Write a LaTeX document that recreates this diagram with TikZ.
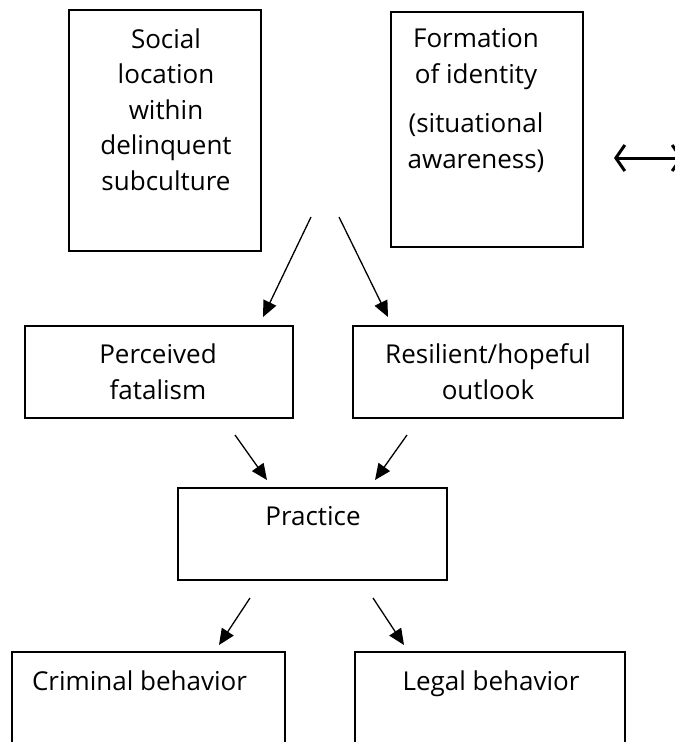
\documentclass[tikz,border=0pt]{standalone}
\usepackage{fontspec}
\setmainfont{Open Sans}
\usetikzlibrary{arrows.meta}
\begin{document}
\begin{tikzpicture}[x=1pt,y=-1pt,
  box/.style={draw, line width=2.2pt, inner sep=0pt, outer sep=0pt},
  lbl/.style={anchor=base, align=center, inner sep=0pt, font=\fontsize{26}{35.5}\selectfont},
  arr/.style={line width=1.3pt, -{Triangle[length=16pt,width=14pt]}},
  dbl/.style={line width=3pt, {Straight Barb[length=9pt,width=26pt]}-{Straight Barb[length=9pt,width=26pt]}}]
\useasboundingbox (0,0) rectangle (675,742);
\clip (0,0) rectangle (675,742);
\fill[white] (0,0) rectangle (675,742);
% boxes
\node[box, minimum width=192pt, minimum height=241pt] (social) at (165,130.5) {};
\node[box, minimum width=192pt, minimum height=235pt] (formation) at (487,129.5) {};
\node[box, minimum width=268pt, minimum height=92pt] (fatal) at (159,372) {};
\node[box, minimum width=270pt, minimum height=92pt] (resil) at (488,372) {};
\node[box, minimum width=269pt, minimum height=92pt] (practice) at (312.5,534) {};
\node[box, minimum width=273pt, minimum height=148pt] (crim) at (148.5,726) {};
\node[box, minimum width=270pt, minimum height=148pt] (legal) at (490,726) {};
% labels (anchor base = baseline of the last line)
\node[lbl] (socialt) at (166,190) {Social\\location\\within\\delinquent\\subculture};
\node[lbl] (formationt) at (476,168) {Formation\\of identity\\[14pt](situational\\awareness)};
\node[lbl] (fatalt) at (158,399) {Perceived\\fatalism};
\node[lbl] (resilt) at (488,399) {Resilient/hopeful\\outlook};
\node[lbl] (practicet) at (313,525) {Practice};
\node[lbl] (crimt) at (139.5,690) {Criminal behavior};
\node[lbl] (legalt) at (491,690) {Legal behavior};
% arrow end points
\coordinate (a1s) at (311,217); \coordinate (a1e) at (263,317);
\coordinate (a2s) at (339,217); \coordinate (a2e) at (388,317);
\coordinate (a3s) at (235,435); \coordinate (a3e) at (267,480);
\coordinate (a4s) at (407,435); \coordinate (a4e) at (375,480);
\coordinate (a5s) at (250,598); \coordinate (a5e) at (219,645);
\coordinate (a6s) at (373,598); \coordinate (a6e) at (404,645);
\coordinate (dl) at (614,158); \coordinate (dr) at (683,158);
\draw[arr] (a1s) -- (a1e);
\draw[arr] (a2s) -- (a2e);
\draw[arr] (a3s) -- (a3e);
\draw[arr] (a4s) -- (a4e);
\draw[arr] (a5s) -- (a5e);
\draw[arr] (a6s) -- (a6e);
\draw[dbl] (dl) -- (dr);
\end{tikzpicture}
\end{document}
